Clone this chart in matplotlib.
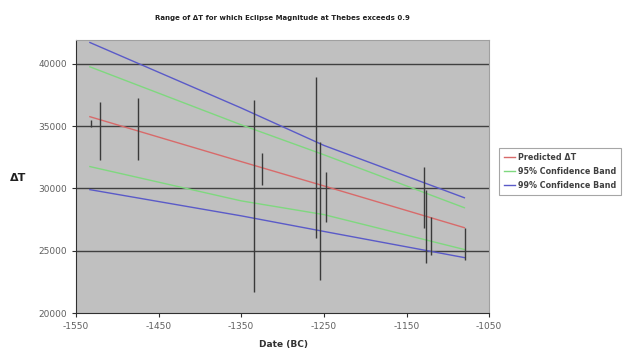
import matplotlib
matplotlib.use("Agg")
import matplotlib.pyplot as plt

# --- data ---
# error bar ranges of delta T at each eclipse date (years, negative = BC)
bar_dates = [-1532, -1521, -1475, -1335, -1325, -1260, -1255, -1247, -1129, -1126, -1120, -1079]
bar_low = [34900, 32300, 32300, 21700, 30300, 26000, 22650, 27300, 26800, 24000, 24650, 24250]
bar_high = [35500, 36950, 37250, 37100, 32850, 38900, 33750, 31350, 31750, 29900, 27700, 26850]

line_dates = [-1533, -1350, -1250, -1080]
predicted = [35750, 32150, 30200, 26850]
band95_hi = [39750, 35100, 32700, 28450]
band95_lo = [31750, 29000, 27900, 25100]
band99_hi = [41700, 36450, 33450, 29250]
band99_lo = [29900, 27800, 26550, 24450]

x_ticks = [-1550, -1450, -1350, -1250, -1150, -1050]
y_ticks = [20000, 25000, 30000, 35000, 40000]

fig = plt.figure(figsize=(6.32, 3.51), dpi=100)
ax = fig.add_axes([0.120, 0.108, 0.654, 0.778])
ax.set_facecolor("#c0c0c0")

for y in y_ticks[1:]:
    ax.axhline(y, color="#404040", lw=1.0, zorder=1)

ax.vlines(bar_dates, bar_low, bar_high, color="#3a3a3a", lw=1.0, zorder=3)

ax.plot(line_dates, predicted, color="#d86a6a", lw=1.0, label="Predicted ΔT", zorder=2)
ax.plot(line_dates, band95_hi, color="#7fd87f", lw=1.0, label="95% Confidence Band", zorder=2)
ax.plot(line_dates, band95_lo, color="#7fd87f", lw=1.0, zorder=2)
ax.plot(line_dates, band99_hi, color="#5a5ac8", lw=1.0, label="99% Confidence Band", zorder=2)
ax.plot(line_dates, band99_lo, color="#5a5ac8", lw=1.0, zorder=2)

ax.set_xlim(-1550, -1050)
ax.set_ylim(20000, 41900)
ax.set_xticks(x_ticks)
ax.set_yticks(y_ticks)
ax.set_xticklabels([str(t) for t in x_ticks])
ax.set_yticklabels([str(t) for t in y_ticks])
ax.tick_params(labelsize=6.5, colors="#606060", length=3, width=0.8)
ax.tick_params(axis="both", color="#303030")

for side in ["top", "right"]:
    ax.spines[side].set_color("#a0a0a0")
    ax.spines[side].set_linewidth(0.8)
for side in ["left", "bottom"]:
    ax.spines[side].set_color("#303030")
    ax.spines[side].set_linewidth(0.8)

fig.text(0.447, 0.948, "Range of ΔT for which Eclipse Magnitude at Thebes exceeds 0.9",
         ha="center", va="center", fontsize=5, fontweight="bold", color="#202020")
fig.text(0.028, 0.493, "ΔT", ha="center", va="center", fontsize=8, fontweight="bold", color="#202020")
fig.text(0.449, 0.018, "Date (BC)", ha="center", va="center", fontsize=6.5, fontweight="bold", color="#303030")

leg = ax.legend(loc="center left", bbox_to_anchor=(1.015, 0.518), fontsize=5.8,
                frameon=True, fancybox=False, handlelength=1.3, handletextpad=0.4,
                borderpad=0.6, labelspacing=0.6, edgecolor="#909090")
leg.get_frame().set_linewidth(0.8)
for t in leg.get_texts():
    t.set_fontweight("bold")
    t.set_color("#404040")

fig.savefig("out.png", dpi=100)
